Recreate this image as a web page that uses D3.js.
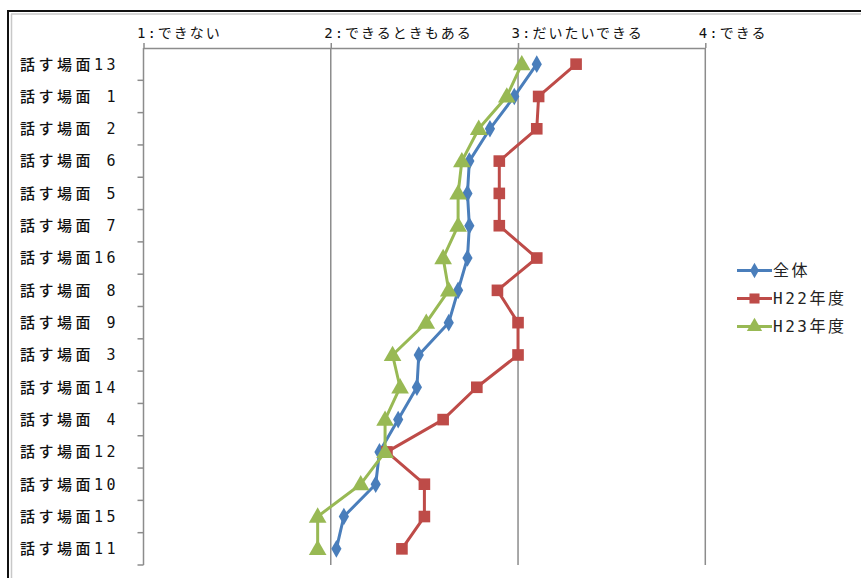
<!DOCTYPE html>
<html>
<head>
<meta charset="utf-8">
<script src="https://cdn.jsdelivr.net/npm/d3@7/dist/d3.min.js"></script>
<style>
  html, body { margin: 0; padding: 0; background: #fff; }
  svg { display: block; }
</style>
</head>
<body>
<svg id="chart" width="861" height="578"></svg>
<script>
// Speaking situations, top to bottom
const categories = ["話す場面13", "話す場面 1", "話す場面 2", "話す場面 6", "話す場面 5", "話す場面 7",
  "話す場面16", "話す場面 8", "話す場面 9", "話す場面 3", "話す場面14", "話す場面 4",
  "話す場面12", "話す場面10", "話す場面15", "話す場面11"];

// Average ratings (1–4) per situation
const overall = [3.10, 2.98, 2.85, 2.74, 2.73, 2.74, 2.73, 2.68, 2.63, 2.47, 2.46, 2.36, 2.26, 2.24, 2.07, 2.03];
const h22 =     [3.31, 3.11, 3.10, 2.90, 2.90, 2.90, 3.10, 2.89, 3.00, 3.00, 2.78, 2.60, 2.30, 2.50, 2.50, 2.38];
const h23 =     [3.02, 2.94, 2.79, 2.70, 2.68, 2.68, 2.60, 2.63, 2.51, 2.33, 2.37, 2.29, 2.29, 2.16, 1.93, 1.93];

const seriesNames = ["全体", "H22年度", "H23年度"];
const seriesColors = ["#4a7ebb", "#be4b48", "#98b954"];
const seriesSymbols = [d3.symbolDiamond, d3.symbolSquare, d3.symbolTriangle];
const seriesSymbolSizes = [90, 135, 135];

const tickValues = [1, 2, 3, 4];
const tickLabels = ["1:できない", "2:できるときもある", "3:だいたいできる", "4:できる"];

const svg = d3.select("#chart");
const plot = { left: 143.5, right: 705.3, top: 48, bottom: 565 };

const x = d3.scaleLinear().domain([1, 4]).range([plot.left, plot.right]);
const y = d3.scaleBand().domain(categories).range([plot.top, plot.bottom]).padding(0);
const yc = c => y(c) + y.bandwidth() / 2;

const gridColor = "#8c8c8c";
const labelFont = "'DejaVu Sans Mono', 'Noto Sans CJK JP', sans-serif";

// outer frame (black rule with a light inner rule)
svg.append("line").attr("x1", 7).attr("x2", 861).attr("y1", 11).attr("y2", 11)
  .attr("stroke", "#111").attr("stroke-width", 2);
svg.append("line").attr("x1", 11).attr("x2", 861).attr("y1", 14).attr("y2", 14)
  .attr("stroke", "#c8c8c8").attr("stroke-width", 1.5);
svg.append("line").attr("x1", 8).attr("x2", 8).attr("y1", 10).attr("y2", 578)
  .attr("stroke", "#111").attr("stroke-width", 2);
svg.append("line").attr("x1", 11.5).attr("x2", 11.5).attr("y1", 14).attr("y2", 578)
  .attr("stroke", "#c8c8c8").attr("stroke-width", 1.5);

// vertical gridlines
svg.append("g").selectAll("line").data(tickValues.slice(1)).join("line")
  .attr("x1", d => x(d)).attr("x2", d => x(d))
  .attr("y1", plot.top).attr("y2", plot.bottom)
  .attr("stroke", gridColor).attr("stroke-width", 1.5);

// top value axis
const topAxis = svg.append("g").attr("transform", `translate(0,${plot.top})`)
  .call(d3.axisTop(x).tickValues(tickValues).tickSize(5).tickSizeOuter(0).tickFormat((d, i) => tickLabels[i]));
topAxis.select(".domain").attr("stroke", gridColor).attr("stroke-width", 1.5);
topAxis.selectAll(".tick line").attr("stroke", gridColor).attr("stroke-width", 1.5);
topAxis.selectAll(".tick text")
  .attr("text-anchor", "start")
  .attr("x", -7).attr("y", -10)
  .attr("fill", "#111")
  .style("font-family", labelFont)
  .style("font-size", "14px")
  .style("letter-spacing", "2px");

// left category axis: line plus boundary ticks
const leftAxis = svg.append("g");
leftAxis.append("line").attr("x1", plot.left).attr("x2", plot.left)
  .attr("y1", plot.top).attr("y2", plot.bottom)
  .attr("stroke", gridColor).attr("stroke-width", 1.5);
const bounds = categories.map(c => y(c)).concat([plot.bottom]);
leftAxis.selectAll("line.tick").data(bounds.slice(1)).join("line").attr("class", "tick")
  .attr("x1", plot.left - 6).attr("x2", plot.left)
  .attr("y1", d => d).attr("y2", d => d)
  .attr("stroke", gridColor).attr("stroke-width", 1.5);

svg.append("g").selectAll("text").data(categories).join("text")
  .attr("x", 20).attr("y", d => yc(d)).attr("dy", "0.36em")
  .attr("fill", "#111")
  .style("white-space", "pre")
  .style("font-family", labelFont)
  .style("font-size", "15px")
  .style("font-weight", "500")
  .style("letter-spacing", "3.5px")
  .text(d => d);

// series lines and markers
const allSeries = [overall, h22, h23];
const line = d3.line().x(d => x(d.v)).y(d => yc(d.c));

allSeries.forEach((vals, si) => {
  const pts = vals.map((v, i) => ({ v, c: categories[i] }));
  const g = svg.append("g");
  g.append("path").datum(pts)
    .attr("d", line).attr("fill", "none")
    .attr("stroke", seriesColors[si]).attr("stroke-width", 3)
    .attr("stroke-linejoin", "round");
  g.selectAll("path.m").data(pts).join("path").attr("class", "m")
    .attr("transform", d => `translate(${x(d.v)},${yc(d.c) + (si === 2 ? 1 : 0)})`)
    .attr("d", d3.symbol().type(seriesSymbols[si]).size(seriesSymbolSizes[si]))
    .attr("fill", seriesColors[si]);
});

// legend
const legend = svg.append("g").attr("transform", "translate(737,270.5)");
seriesNames.forEach((name, i) => {
  const g = legend.append("g").attr("transform", `translate(0,${i * 28})`);
  g.append("line").attr("x1", 0).attr("x2", 35).attr("y1", 0).attr("y2", 0)
    .attr("stroke", seriesColors[i]).attr("stroke-width", 3);
  g.append("path").attr("transform", "translate(17.5,0)")
    .attr("d", d3.symbol().type(seriesSymbols[i]).size(seriesSymbolSizes[i] * 0.75))
    .attr("fill", seriesColors[i]);
  g.append("text").attr("x", 36).attr("dy", "0.36em")
    .attr("fill", "#222")
    .style("font-family", labelFont)
    .style("font-size", "16px")
    .style("letter-spacing", "2.5px")
    .text(name);
});
</script>
</body>
</html>
